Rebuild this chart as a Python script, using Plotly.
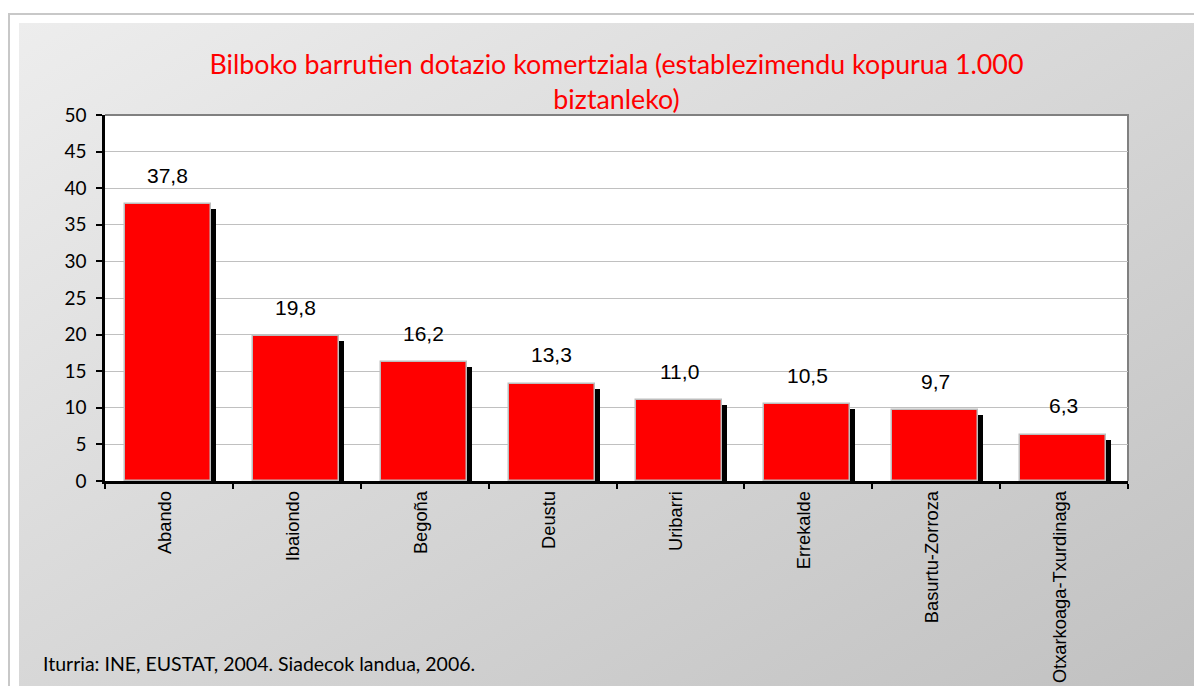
import base64
import plotly.graph_objects as go

# ---- data ----
categories = ["Abando", "Ibaiondo", "Begoña", "Deustu", "Uribarri",
              "Errekalde", "Basurtu-Zorroza", "Otxarkoaga-Txurdinaga"]
values = [37.8, 19.8, 16.2, 13.3, 11.0, 10.5, 9.7, 6.3]
y_ticks = [0, 5, 10, 15, 20, 25, 30, 35, 40, 45, 50]
title_text = "Bilboko barrutien dotazio komertziala (establezimendu kopurua 1.000<br>biztanleko)"
source_text = "Iturria: INE, EUSTAT, 2004. Siadecok landua, 2006."

# ---- geometry (screen pixels; page body adds an 8px offset) ----
OFF = 8
W, H = 1202, 686
PL, PR, PT, PB = 105, 1128, 115, 481          # plot box on screen
ML, MT = PL - OFF, PT - OFF
MR, MB = W - (PR - OFF), H - (PB - OFF)
PW, PH = PR - PL, PB - PT
YMAX = 50
px_per_unit = PH / YMAX
cat_px = PW / len(categories)
shadow_dx = 5 / cat_px
shadow_dy = 5 / px_per_unit
bar_w = 0.672

labels = [f"{v:.1f}".replace(".", ",") for v in values]

# ---- background as svg (page, frame, gradient, plot area), in figure px ----
def sx(v):
    return v - OFF

svg = f'''<svg xmlns="http://www.w3.org/2000/svg" width="{W}" height="{H}" viewBox="0 0 {W} {H}" preserveAspectRatio="none">
<defs><linearGradient id="g" x1="0" y1="0" x2="1" y2="1">
<stop offset="0" stop-color="#ededed"/><stop offset="1" stop-color="#c0c0c0"/></linearGradient></defs>
<rect x="0" y="0" width="{W}" height="{H}" fill="#ffffff"/>
<rect x="{sx(9)}" y="{sx(14)}" width="{W+20}" height="{H+20}" fill="#ffffff" stroke="#c8c8c8" stroke-width="2"/>
<rect x="{sx(19)}" y="{sx(23)}" width="1181" height="{H}" fill="url(#g)"/>
<rect x="{sx(PL)}" y="{sx(PT)}" width="{PW}" height="{PH}" fill="#ffffff"/>
<path d="M{sx(PL)},{sx(PT)} H{sx(PR)} V{sx(PB)}" fill="none" stroke="#808080" stroke-width="2"/>
</svg>'''
svg_uri = "data:image/svg+xml;base64," + base64.b64encode(svg.encode()).decode()

fig = go.Figure()

fig.add_trace(go.Bar(
    x=categories, y=[v - shadow_dy for v in values],
    width=bar_w, offset=-bar_w / 2 + shadow_dx - 0.008,
    marker=dict(color="#000000", line=dict(width=0)),
    hoverinfo="skip", showlegend=False,
))
fig.add_trace(go.Bar(
    x=categories, y=values,
    width=bar_w, offset=-bar_w / 2 - 0.008,
    marker=dict(color="#ff0000", line=dict(color="#bdbdbd", width=1.5)),
    hoverinfo="skip", showlegend=False,
))

for c, v, t in zip(categories, values, labels):
    fig.add_annotation(x=c, y=v, text=t, showarrow=False, yanchor="middle",
                       yshift=29, xshift=-1,
                       font=dict(family="Liberation Sans, Arial", size=21, color="#000000"))

fig.add_annotation(xref="paper", yref="paper",
                   x=(41 - PL) / PW, y=(PB - 663) / PH,
                   xanchor="left", yanchor="middle", showarrow=False,
                   text=source_text,
                   font=dict(family="Lato", size=19.5, color="#000000"))

fig.add_layout_image(dict(
    source=svg_uri, xref="paper", yref="paper",
    x=-ML / PW, y=1 + MT / PH, sizex=W / PW, sizey=H / PH,
    xanchor="left", yanchor="top", sizing="stretch", layer="below",
))

fig.update_layout(
    width=W, height=H,
    margin=dict(l=ML, r=MR, t=MT, b=MB, pad=0, autoexpand=False),
    paper_bgcolor="#ffffff", plot_bgcolor="rgba(0,0,0,0)",
    barmode="overlay", bargap=0,
    title=dict(text=title_text, x=0.5, xref="paper", xanchor="center",
               y=1 - (74 - OFF) / H, yref="container", yanchor="middle",
               font=dict(family="Lato", size=26.8, color="#ff0000")),
    xaxis=dict(
        type="category", tickangle=-90, tickson="boundaries",
        ticks="outside", ticklen=5, tickwidth=1.5, tickcolor="#000000",
        showline=True, linecolor="#000000", linewidth=2.5,
        showgrid=False, range=[-0.5, len(categories) - 0.5],
        tickfont=dict(family="Liberation Sans, Arial", size=18.3, color="#000000"),
        ticklabelshift=-4, fixedrange=True, automargin=False,
    ),
    yaxis=dict(
        range=[0, YMAX], tickvals=y_ticks,
        ticks="outside", ticklen=6, tickwidth=1.5, tickcolor="#000000",
        showline=True, linecolor="#000000", linewidth=2.5,
        showgrid=True, gridcolor="#c0c0c0", gridwidth=1,
        zeroline=False,
        tickfont=dict(family="Lato", size=19, color="#000000"),
        ticklabelstandoff=6, fixedrange=True, automargin=False,
    ),
)

fig.write_html("out.html", config={"displayModeBar": False})
